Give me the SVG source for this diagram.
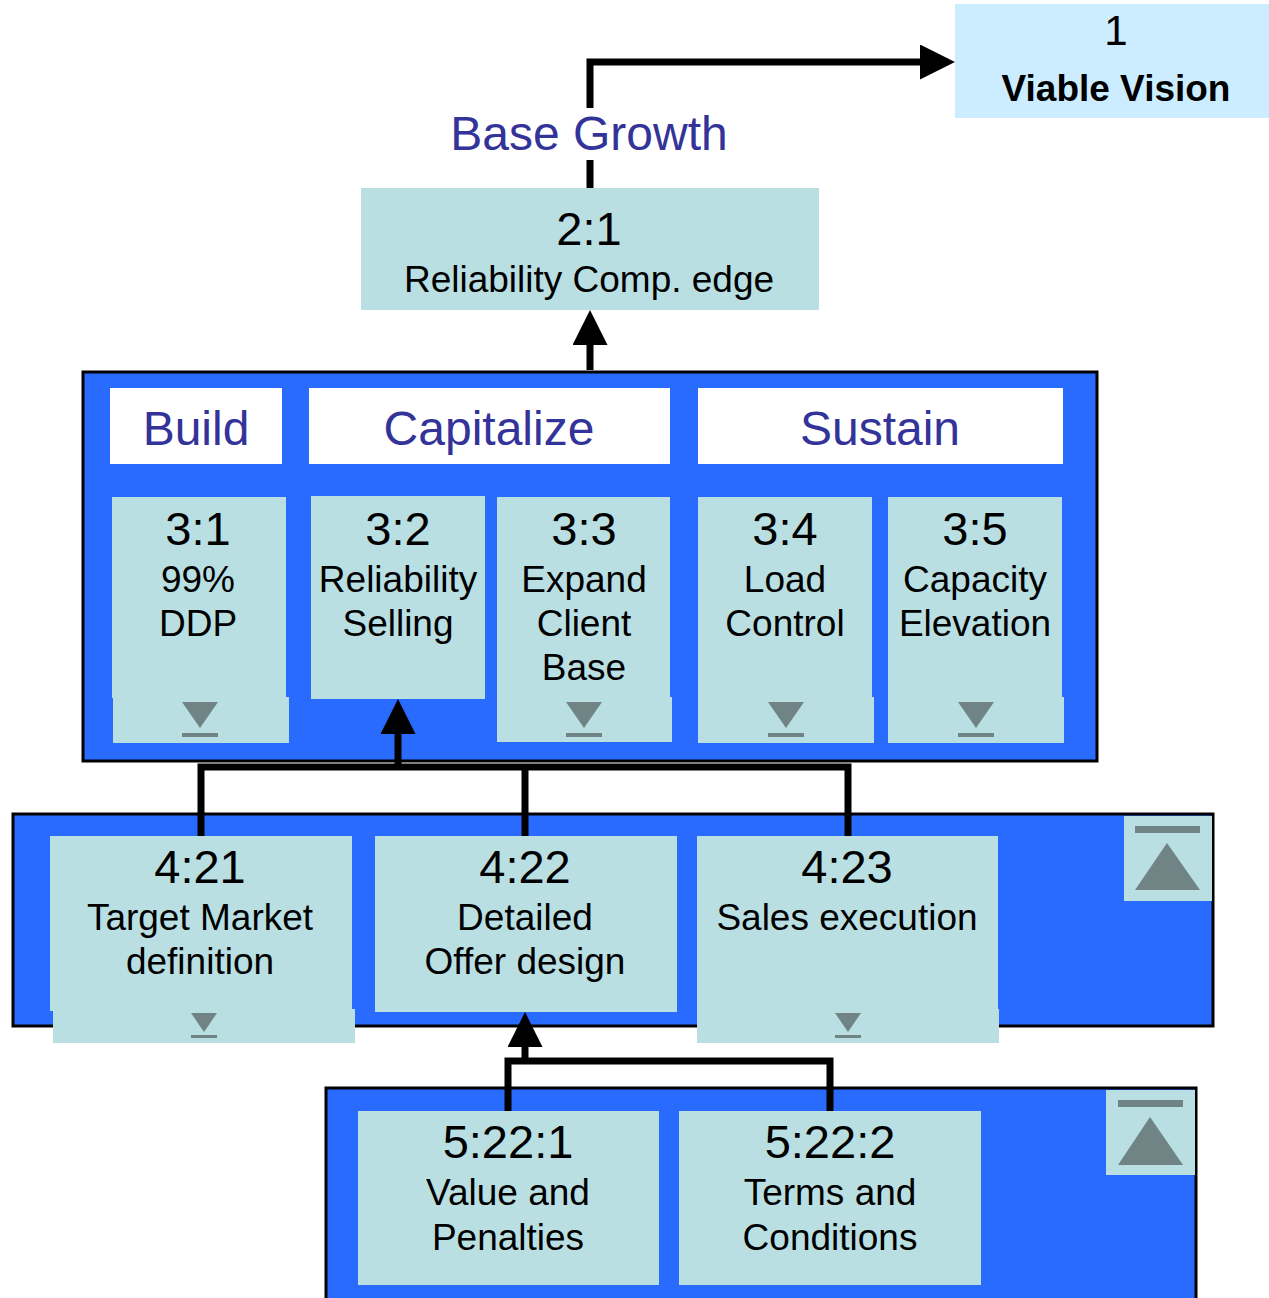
<svg xmlns="http://www.w3.org/2000/svg" width="1269" height="1298" viewBox="0 0 1269 1298">
<defs>
<style>
.card{fill:#B9DFE3}
.cont{fill:#2A6BFF;stroke:#000;stroke-width:3}
.hdr{fill:#fff}
.t{font-family:"Liberation Sans",Arial,sans-serif;text-anchor:middle;fill:#000}
.id{font-size:47px}
.lb{font-size:37px}
.ht{font-family:"Liberation Sans",Arial,sans-serif;text-anchor:middle;fill:#333399;font-size:48px}
.mk{fill:#708486}
.ln{fill:none;stroke:#000;stroke-width:7}
</style>
<marker id="ah" markerWidth="5" markerHeight="5" refX="1" refY="2.5" orient="auto" markerUnits="strokeWidth">
<path d="M0,0 L5,2.5 L0,5 z" fill="#000"/>
</marker>
</defs>
<rect width="1269" height="1298" fill="#fff"/>

<g id="containers">
<rect class="cont" x="83" y="372" width="1014" height="389"/>
<rect class="cont" x="13" y="814" width="1200" height="212"/>
<rect class="cont" x="326" y="1088" width="870" height="214"/>
</g>

<g id="connectors">
<polyline class="ln" points="590,188 590,62 927,62" marker-end="url(#ah)"/>
<line class="ln" x1="590" y1="370" x2="590" y2="338" marker-end="url(#ah)"/>
<polyline class="ln" points="201,836 201,767 848,767 848,836"/>
<line class="ln" x1="525" y1="767" x2="525" y2="836"/>
<line class="ln" x1="398" y1="767" x2="398" y2="727" marker-end="url(#ah)"/>
<polyline class="ln" points="508,1111 508,1061 830,1061 830,1111"/>
<line class="ln" x1="525" y1="1061" x2="525" y2="1040" marker-end="url(#ah)"/>
</g>

<g id="label-base-growth">
<rect x="448" y="108" width="284" height="52" fill="#fff"/>
<text class="ht" x="589" y="150" font-size="47">Base Growth</text>
</g>

<g id="n1">
<rect x="955" y="4" width="314" height="114" fill="#CCECFF"/>
<text class="t" x="1116" y="45" font-size="42">1</text>
<text class="t" x="1116" y="101" font-size="37" font-weight="bold">Viable Vision</text>
</g>

<g id="n2-1">
<rect class="card" x="361" y="188" width="458" height="122"/>
<text class="t id" x="589" y="245">2:1</text>
<text class="t lb" x="589" y="292">Reliability Comp. edge</text>
</g>

<g id="headers">
<rect class="hdr" x="110" y="388" width="172" height="76"/>
<text class="ht" x="196" y="445">Build</text>
<rect class="hdr" x="309" y="388" width="361" height="76"/>
<text class="ht" x="489" y="445">Capitalize</text>
<rect class="hdr" x="698" y="388" width="365" height="76"/>
<text class="ht" x="880" y="445">Sustain</text>
</g>

<g id="n3-1">
<rect class="card" x="112" y="497" width="174" height="201"/>
<rect class="card" x="113" y="697" width="176" height="46"/>
<path class="mk" d="M182,702 L218,702 L200,728 z"/>
<rect class="mk" x="182" y="733" width="36" height="4"/>
<text class="t id" x="198" y="545">3:1</text>
<text class="t lb" x="198" y="592">99%</text>
<text class="t lb" x="198" y="636">DDP</text>
</g>

<g id="n3-2">
<rect class="card" x="311" y="496" width="174" height="203"/>
<text class="t id" x="398" y="545">3:2</text>
<text class="t lb" x="398" y="592">Reliability</text>
<text class="t lb" x="398" y="636">Selling</text>
</g>

<g id="n3-3">
<rect class="card" x="497" y="497" width="173" height="201"/>
<rect class="card" x="497" y="697" width="175" height="45"/>
<path class="mk" d="M566,702 L602,702 L584,728 z"/>
<rect class="mk" x="566" y="733" width="36" height="4"/>
<text class="t id" x="584" y="545">3:3</text>
<text class="t lb" x="584" y="592">Expand</text>
<text class="t lb" x="584" y="636">Client</text>
<text class="t lb" x="584" y="680">Base</text>
</g>

<g id="n3-4">
<rect class="card" x="698" y="497" width="174" height="201"/>
<rect class="card" x="698" y="697" width="176" height="46"/>
<path class="mk" d="M768,702 L804,702 L786,728 z"/>
<rect class="mk" x="768" y="733" width="36" height="4"/>
<text class="t id" x="785" y="545">3:4</text>
<text class="t lb" x="785" y="592">Load</text>
<text class="t lb" x="785" y="636">Control</text>
</g>

<g id="n3-5">
<rect class="card" x="888" y="497" width="174" height="201"/>
<rect class="card" x="888" y="697" width="176" height="46"/>
<path class="mk" d="M958,702 L994,702 L976,728 z"/>
<rect class="mk" x="958" y="733" width="36" height="4"/>
<text class="t id" x="975" y="545">3:5</text>
<text class="t lb" x="975" y="592">Capacity</text>
<text class="t lb" x="975" y="636">Elevation</text>
</g>

<g id="n4-21">
<rect class="card" x="50" y="836" width="302" height="175"/>
<rect class="card" x="53" y="1009" width="302" height="34"/>
<path class="mk" d="M191,1013 L217,1013 L204,1032 z"/>
<rect class="mk" x="191" y="1035" width="26" height="3"/>
<text class="t id" x="200" y="883">4:21</text>
<text class="t lb" x="200" y="930">Target Market</text>
<text class="t lb" x="200" y="974">definition</text>
</g>

<g id="n4-22">
<rect class="card" x="375" y="836" width="302" height="176"/>
<text class="t id" x="525" y="883">4:22</text>
<text class="t lb" x="525" y="930">Detailed</text>
<text class="t lb" x="525" y="974">Offer design</text>
</g>

<g id="n4-23">
<rect class="card" x="697" y="836" width="301" height="175"/>
<rect class="card" x="697" y="1009" width="302" height="34"/>
<path class="mk" d="M835,1013 L861,1013 L848,1032 z"/>
<rect class="mk" x="835" y="1035" width="26" height="3"/>
<text class="t id" x="847" y="883">4:23</text>
<text class="t lb" x="847" y="930">Sales execution</text>
</g>

<g id="up-4">
<rect class="card" x="1124" y="816" width="88" height="85"/>
<rect class="mk" x="1135" y="826" width="65" height="7"/>
<path class="mk" d="M1135,890 L1200,890 L1167,843 z"/>
</g>

<g id="n5-22-1">
<rect class="card" x="358" y="1111" width="301" height="174"/>
<text class="t id" x="508" y="1158">5:22:1</text>
<text class="t lb" x="508" y="1205">Value and</text>
<text class="t lb" x="508" y="1250">Penalties</text>
</g>

<g id="n5-22-2">
<rect class="card" x="679" y="1111" width="302" height="174"/>
<text class="t id" x="830" y="1158">5:22:2</text>
<text class="t lb" x="830" y="1205">Terms and</text>
<text class="t lb" x="830" y="1250">Conditions</text>
</g>

<g id="up-5">
<rect class="card" x="1106" y="1090" width="89" height="85"/>
<rect class="mk" x="1118" y="1100" width="65" height="7"/>
<path class="mk" d="M1118,1165 L1183,1165 L1150,1117 z"/>
</g>
</svg>
